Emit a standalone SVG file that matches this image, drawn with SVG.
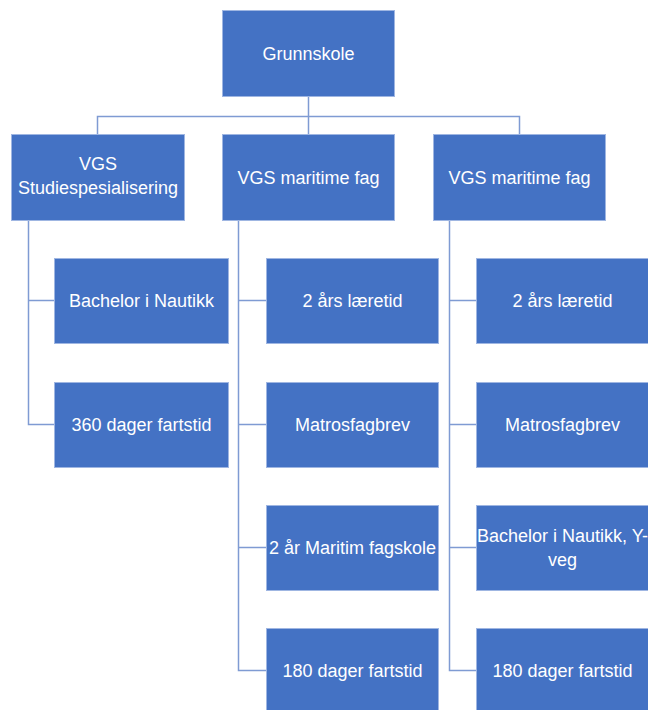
<svg xmlns="http://www.w3.org/2000/svg" width="648" height="710" viewBox="0 0 648 710">
<style>
.box{fill:#4472C4;stroke:#9fb6e2;stroke-width:1}
.t{fill:#ffffff;font-family:"Liberation Sans",Arial,sans-serif;font-size:18px;text-anchor:middle;dominant-baseline:central}
.c{fill:none;stroke:#7f9bd3;stroke-width:1.5}
</style>
<rect width="648" height="710" fill="#ffffff"/>
<g id="connectors">
<path class="c" d="M308.5,96 V116.5 M97.5,134 V116.5 H519.5 V134 M308.5,116.5 V134"/>
<path class="c" d="M28.5,220 V424.5 H54 M28.5,300.5 H54"/>
<path class="c" d="M238.5,220 V670.5 H266 M238.5,300.5 H266 M238.5,424.5 H266 M238.5,547.5 H266"/>
<path class="c" d="M449.5,220 V670.5 H476 M449.5,300.5 H476 M449.5,424.5 H476 M449.5,547.5 H476"/>
</g>
<g id="grunnskole"><rect class="box" x="222.5" y="10.5" width="172" height="86"/><text class="t" x="308.5" y="53.5">Grunnskole</text></g>
<g id="vgs-studie"><rect class="box" x="11.5" y="134.5" width="173" height="86"/><text class="t" x="98" y="164">VGS</text><text class="t" x="98" y="188">Studiespesialisering</text></g>
<g id="vgs-maritime-1"><rect class="box" x="222.5" y="134.5" width="172" height="86"/><text class="t" x="308.5" y="177.5">VGS maritime fag</text></g>
<g id="vgs-maritime-2"><rect class="box" x="433.5" y="134.5" width="172" height="86"/><text class="t" x="519.5" y="177.5">VGS maritime fag</text></g>
<g id="bachelor-nautikk"><rect class="box" x="54.5" y="258.5" width="174" height="85"/><text class="t" x="141.5" y="300.5">Bachelor i Nautikk</text></g>
<g id="dager-360"><rect class="box" x="54.5" y="382.5" width="174" height="85"/><text class="t" x="141.5" y="424.5">360 dager fartstid</text></g>
<g id="laeretid-1"><rect class="box" x="266.5" y="258.5" width="172" height="85"/><text class="t" x="352.5" y="300.5">2 års læretid</text></g>
<g id="matros-1"><rect class="box" x="266.5" y="382.5" width="172" height="85"/><text class="t" x="352.5" y="424.5">Matrosfagbrev</text></g>
<g id="fagskole"><rect class="box" x="266.5" y="505.5" width="172" height="85"/><text class="t" x="352.5" y="547.5">2 år Maritim fagskole</text></g>
<g id="dager-180-1"><rect class="box" x="266.5" y="628.5" width="172" height="85"/><text class="t" x="352.5" y="670.5">180 dager fartstid</text></g>
<g id="laeretid-2"><rect class="box" x="476.5" y="258.5" width="172" height="85"/><text class="t" x="562.5" y="300.5">2 års læretid</text></g>
<g id="matros-2"><rect class="box" x="476.5" y="382.5" width="172" height="85"/><text class="t" x="562.5" y="424.5">Matrosfagbrev</text></g>
<g id="bachelor-yveg"><rect class="box" x="476.5" y="505.5" width="172" height="85"/><text class="t" x="562.5" y="536">Bachelor i Nautikk, Y-</text><text class="t" x="562.5" y="560">veg</text></g>
<g id="dager-180-2"><rect class="box" x="476.5" y="628.5" width="172" height="85"/><text class="t" x="562.5" y="670.5">180 dager fartstid</text></g>
</svg>
